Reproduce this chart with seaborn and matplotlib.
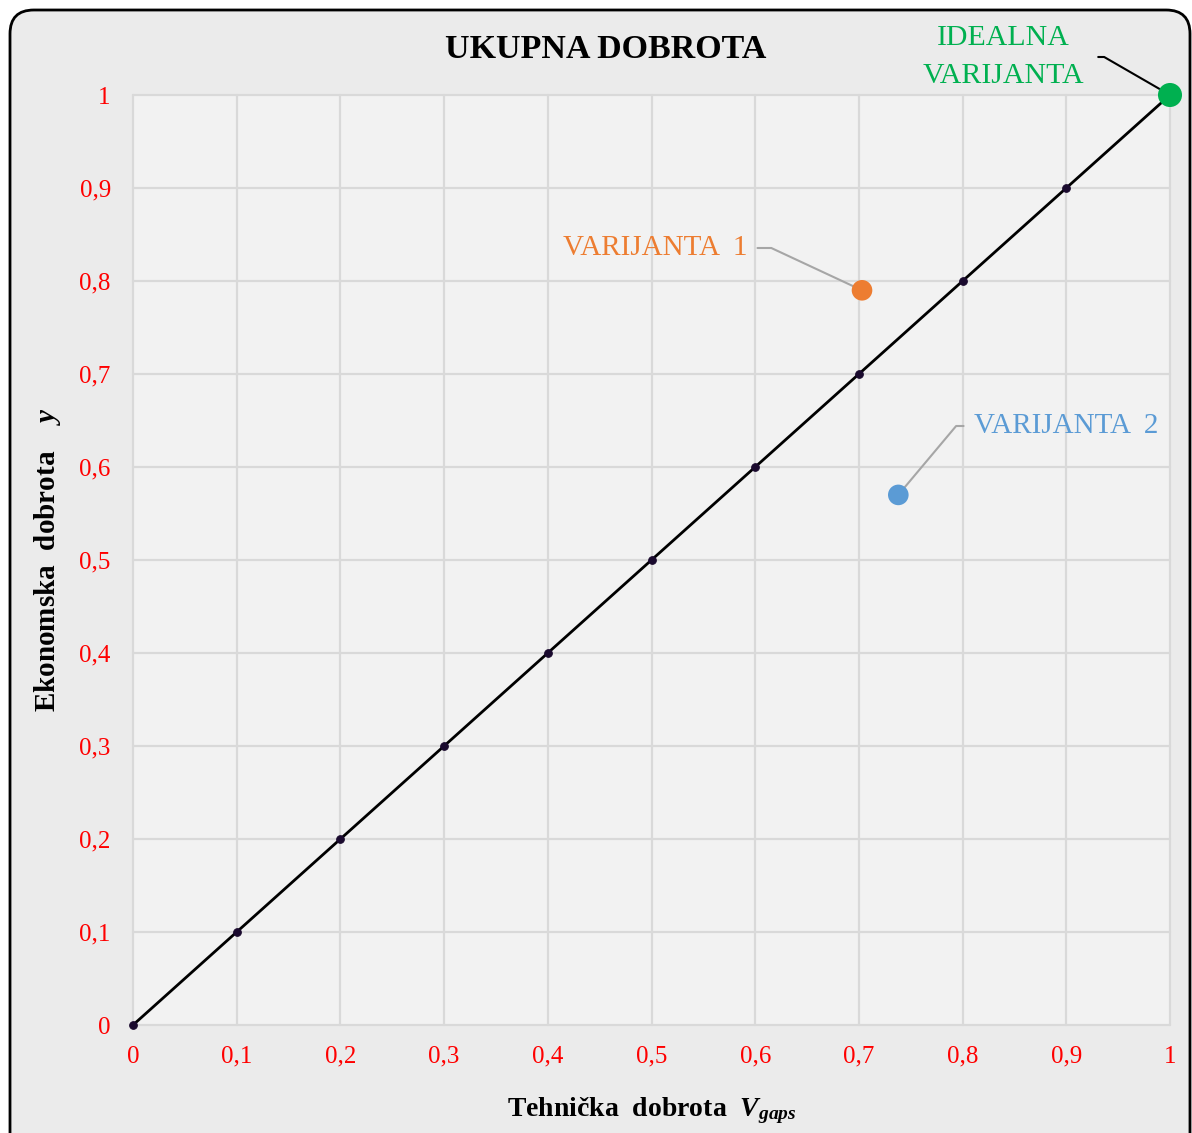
import matplotlib.pyplot as plt
import matplotlib.patches as mpatches
import pandas as pd
import seaborn as sns
import numpy as np

# diagonal reference line (0..1 in steps of 0.1)
diag_x = [0.0, 0.1, 0.2, 0.3, 0.4, 0.5, 0.6, 0.7, 0.8, 0.9, 1.0]
diag_y = [0.0, 0.1, 0.2, 0.3, 0.4, 0.5, 0.6, 0.7, 0.8, 0.9, 1.0]

# the variants
var_names = ["VARIJANTA  1", "VARIJANTA  2", "IDEALNA\nVARIJANTA"]
var_x = [0.703, 0.738, 1.0]
var_y = [0.790, 0.570, 1.0]
var_colors = ["#ed7d31", "#5b9bd5", "#00b050"]

tick_vals = [0.0, 0.1, 0.2, 0.3, 0.4, 0.5, 0.6, 0.7, 0.8, 0.9, 1.0]
tick_labels = ["0", "0,1", "0,2", "0,3", "0,4", "0,5", "0,6", "0,7", "0,8", "0,9", "1"]

sns.set_theme(style="whitegrid")
plt.rcParams['font.family'] = ['Liberation Serif', 'DejaVu Serif']
plt.rcParams['mathtext.fontset'] = 'custom'
plt.rcParams['mathtext.it'] = 'Liberation Serif:italic:bold'
plt.rcParams['mathtext.rm'] = 'Liberation Serif:bold'

W, H = 1192, 1133
fig = plt.figure(figsize=(W / 100, H / 100), dpi=100, facecolor='white')

# rounded outer frame (cut at right/bottom like the screenshot)
frame = mpatches.FancyBboxPatch((10 / W, -40 / H), (1190 - 10) / W, (H - 10 + 40) / H,
                                boxstyle="round,pad=0,rounding_size=0.02",
                                transform=fig.transFigure, facecolor='#ebebeb',
                                edgecolor='black', linewidth=2, zorder=-5,
                                mutation_aspect=W / H)
fig.patches.append(frame)

ax = fig.add_axes([133 / W, 108 / H, (1170 - 133) / W, (1025 - 95) / H])
ax.set_facecolor('#f2f2f2')
ax.set_zorder(1)

df_diag = pd.DataFrame({'x': diag_x, 'y': diag_y})
sns.lineplot(data=df_diag, x='x', y='y', ax=ax, color='black', linewidth=2,
             marker='o', markersize=5.5, markerfacecolor='#1a0a2e',
             markeredgecolor='#1a0a2e', zorder=3, clip_on=False)

df_var = pd.DataFrame({'name': var_names, 'x': var_x, 'y': var_y})
sizes = [220, 220, 300]
for i, row in df_var.iterrows():
    sns.scatterplot(x=[row['x']], y=[row['y']], ax=ax, color=var_colors[i],
                    s=sizes[i], edgecolor='none', zorder=5, clip_on=False)

ax.set_xlim(0, 1)
ax.set_ylim(0, 1)
ax.set_xticks(tick_vals)
ax.set_yticks(tick_vals)
ax.set_xticklabels(tick_labels)
ax.set_yticklabels(tick_labels)
ax.tick_params(axis='both', colors='red', labelsize=18, length=0)
ax.tick_params(axis='x', pad=15)
ax.tick_params(axis='y', pad=16)
ax.grid(True, color='#d9d9d9', linewidth=1.6)
for gl in ax.get_xgridlines() + ax.get_ygridlines():
    gl.set_clip_on(False)
for s in ax.spines.values():
    s.set_visible(False)

ax.set_xlabel(r'Tehnička  dobrota  $V_{gaps}$', fontsize=20, fontweight='bold',
              color='black', labelpad=20)
ax.set_ylabel(r'Ekonomska  dobrota    $y$', fontsize=21, fontweight='bold',
              color='black', labelpad=12)

fig.text(606 / W, 1 - 49 / H, 'UKUPNA DOBROTA', fontsize=24.5, fontweight='bold',
         ha='center', va='center', color='black')

# annotations with elbow-like leader lines
ax.annotate(var_names[0], xy=(var_x[0], var_y[0]), xytext=(655, 1133 - 248),
            textcoords='figure pixels', ha='center', va='center', fontsize=21,
            color=var_colors[0],
            arrowprops=dict(arrowstyle='-', color='#a6a6a6', lw=1.5,
                            relpos=(1, 0.5), shrinkA=5, shrinkB=0,
                            connectionstyle='angle,angleA=0,angleB=155,rad=0'))
ax.annotate(var_names[1], xy=(var_x[1], var_y[1]), xytext=(1066, 1133 - 426),
            textcoords='figure pixels', ha='center', va='center', fontsize=21,
            color=var_colors[1],
            arrowprops=dict(arrowstyle='-', color='#a6a6a6', lw=1.5,
                            relpos=(0, 0.5), shrinkA=5, shrinkB=0,
                            connectionstyle='angle,angleA=0,angleB=50,rad=0'))
ax.annotate(var_names[2], xy=(var_x[2], var_y[2]), xytext=(1003, 1133 - 57),
            textcoords='figure pixels', ha='center', va='center', fontsize=21.5,
            color=var_colors[2], linespacing=1.6,
            arrowprops=dict(arrowstyle='-', color='black', lw=1.5,
                            relpos=(1, 0.5), shrinkA=8, shrinkB=0,
                            connectionstyle='angle,angleA=0,angleB=150,rad=0'))

plt.savefig('out.png', dpi=100, facecolor='white')
